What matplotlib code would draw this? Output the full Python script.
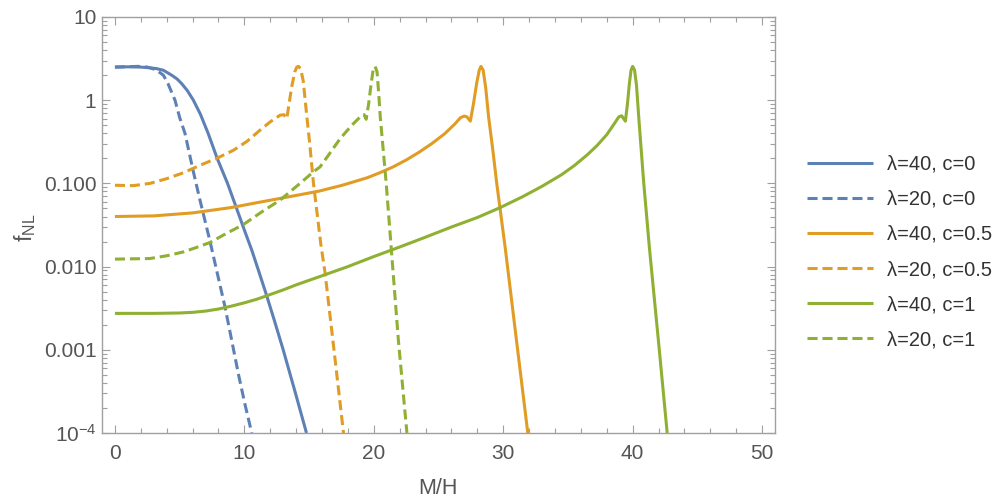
import matplotlib
matplotlib.use("Agg")
import matplotlib.pyplot as plt
from matplotlib.ticker import FixedLocator, NullFormatter

plt.rcParams["font.family"] = ["Liberation Sans", "DejaVu Sans"]
plt.rcParams["mathtext.fontset"] = "custom"
plt.rcParams["mathtext.rm"] = "Liberation Sans"
plt.rcParams["mathtext.it"] = "Liberation Sans"

# values (M/H, f_NL)
x_l40_c0 = [0, 1, 2, 2.7, 3.2, 3.74, 4.38, 4.8, 5.16, 5.6, 6.06, 6.6, 7.2, 7.9, 8.7,
            9.4, 10.0, 10.57, 11.1, 11.7, 12.3, 13.0, 13.9, 14.8]
y_l40_c0 = [2.5, 2.52, 2.5, 2.45, 2.4, 2.29, 2.0, 1.8, 1.58, 1.3, 1.0, 0.68, 0.40, 0.20, 0.10,
            0.05, 0.0275, 0.0158, 0.0089, 0.0046, 0.0023, 0.001, 0.00032, 1e-4]

x_l20_c0 = [0, 1, 1.8, 2.5, 2.9, 3.22, 3.74, 4.1, 4.64, 5.0, 5.41, 6.06, 6.57, 7.35, 8.0,
            8.5, 9.0, 9.54, 10.05, 10.57]
y_l20_c0 = [2.5, 2.53, 2.55, 2.5, 2.4, 2.29, 2.0, 1.58, 1.0, 0.62, 0.40, 0.138, 0.063, 0.020, 0.0072,
            0.0033, 0.00135, 0.00051, 0.00022, 1e-4]

x_l40_c05 = [0, 3, 6, 9, 11.73, 12.76, 14.5, 15.85, 16.6, 17.5, 18.5, 19.5, 20.5, 21.5, 22.5, 23.5,
             24.5, 25.5, 26.3, 26.7, 27.0, 27.2, 27.46, 27.7, 27.95, 28.15, 28.28, 28.45, 28.65, 28.87,
             29.2, 29.5, 30.16, 31.0, 31.9]
y_l40_c05 = [0.040, 0.0407, 0.0442, 0.0513, 0.0617, 0.066, 0.0741, 0.0813, 0.0871, 0.0944, 0.105, 0.117,
             0.135, 0.158, 0.191, 0.237, 0.302, 0.398, 0.525, 0.617, 0.645, 0.63, 0.56, 0.9, 1.6, 2.3,
             2.55, 2.3, 1.4, 0.63, 0.25, 0.10, 0.0166, 0.0014, 1e-4]

x_l20_c05 = [0, 1.42, 2.7, 4.0, 5.28, 6.57, 7.86, 9.15, 10.2, 11.2, 12.0, 12.76, 13.05, 13.28, 13.45,
             13.66, 13.9, 14.05, 14.18, 14.35, 14.55, 14.8, 15.05, 15.34, 15.9, 16.24, 16.84, 17.66]
y_l20_c05 = [0.095, 0.094, 0.1, 0.114, 0.134, 0.165, 0.2, 0.25, 0.32, 0.435, 0.55, 0.66, 0.67, 0.60, 0.9,
             1.45, 2.2, 2.5, 2.55, 2.4, 1.7, 0.7, 0.3, 0.1, 0.019, 0.0083, 0.0013, 1e-4]

x_l40_c1 = [0, 3, 5, 6, 7, 8, 9, 10, 11, 12, 13, 14, 15, 16, 18, 20, 22, 24, 26, 28, 29.78,
            31.5, 33, 34.5, 35.5, 36.5, 37.25, 38.0, 38.5, 38.93, 39.15, 39.44, 39.6, 39.75, 39.88,
            40.0, 40.15, 40.3, 40.47, 40.86, 41.3, 42.0, 42.67]
y_l40_c1 = [0.00274, 0.00274, 0.00277, 0.00282, 0.00292, 0.00309, 0.00335, 0.00367, 0.00407, 0.00462,
            0.00525, 0.00603, 0.00684, 0.00776, 0.01, 0.0132, 0.0172, 0.0226, 0.0299, 0.0389, 0.0513,
            0.0692, 0.0923, 0.127, 0.164, 0.221, 0.285, 0.385, 0.50, 0.63, 0.65, 0.56, 0.9, 1.6, 2.3,
            2.55, 2.3, 1.5, 0.63, 0.1, 0.0166, 0.00125, 1e-4]

x_l20_c1 = [0, 2.7, 4, 5.28, 6.3, 7.35, 8.6, 9.92, 11.3, 12.76, 14.3, 15.34, 15.85, 16.6, 17.4,
            18.3, 19.08, 19.25, 19.41, 19.6, 19.8, 19.95, 20.1, 20.25, 20.38, 20.5, 20.96,
            21.32, 21.9, 22.56]
y_l20_c1 = [0.0123, 0.0125, 0.0135, 0.015, 0.017, 0.0195, 0.025, 0.032, 0.045, 0.063, 0.1, 0.138, 0.158,
            0.23, 0.345, 0.5, 0.66, 0.67, 0.59, 0.9, 1.6, 2.3, 2.55, 2.2, 1.2, 0.63, 0.1,
            0.019, 0.0013, 1e-4]

labels = ["λ=40, c=0", "λ=20, c=0", "λ=40, c=0.5", "λ=20, c=0.5", "λ=40, c=1", "λ=20, c=1"]

y_ticks = [1e-4, 1e-3, 1e-2, 1e-1, 1, 10]
y_tick_labels = ["$10^{-4}$", "0.001", "0.010", "0.100", "1", "10"]

blue = "#5E81B5"
orange = "#E19C24"
green = "#8FB032"
frame_col = "#a0a0a0"
text_col = "#555555"

fig = plt.figure(figsize=(10.06, 4.99), dpi=100)
ax = fig.add_axes([102 / 1006, 1 - 433 / 499, 673 / 1006, 416 / 499])

lw = 2.2
dash = (3.3, 1.6)
series = [
    (x_l40_c0, y_l40_c0, blue, False),
    (x_l20_c0, y_l20_c0, blue, True),
    (x_l40_c05, y_l40_c05, orange, False),
    (x_l20_c05, y_l20_c05, orange, True),
    (x_l40_c1, y_l40_c1, green, False),
    (x_l20_c1, y_l20_c1, green, True),
]
for (xs, ys, col, dashed), lab in zip(series, labels):
    line, = ax.plot(xs, ys, color=col, lw=lw, label=lab, solid_capstyle="butt")
    if dashed:
        line.set_dashes(dash)

ax.set_yscale("log")
ax.set_xlim(-1, 51)
ax.set_ylim(1e-4, 10)

ax.xaxis.set_major_locator(FixedLocator([0, 10, 20, 30, 40, 50]))
ax.xaxis.set_minor_locator(FixedLocator([v for v in range(0, 51, 2) if v % 10 != 0]))
ax.yaxis.set_major_locator(FixedLocator(y_ticks))
minors = []
for d in [1e-4, 1e-3, 1e-2, 1e-1, 1]:
    minors += [d * k for k in range(2, 10)]
ax.yaxis.set_minor_locator(FixedLocator(minors))
ax.yaxis.set_minor_formatter(NullFormatter())
ax.set_yticklabels(y_tick_labels)

ax.tick_params(which="both", direction="in", top=True, right=True, colors=frame_col,
               labelcolor=text_col, labelsize=15, width=0.8)
ax.tick_params(which="major", length=6)
ax.tick_params(which="minor", length=3.5)
ax.tick_params(axis="x", pad=8)
ax.tick_params(axis="y", pad=4)
for s in ax.spines.values():
    s.set_color(frame_col)
    s.set_linewidth(1.0)

fig.text(438 / 1006, 1 - 488 / 499, "M/H", ha="center", va="center", fontsize=15.5, color=text_col)
fig.text(25 / 1006, 1 - 228 / 499, r"$\mathrm{f}_{\mathrm{NL}}$", ha="center", va="center",
         rotation=90, fontsize=16.5, color=text_col)

fig.legend(loc="center left", bbox_to_anchor=(797 / 1006, 1 - 252 / 499), frameon=False,
           fontsize=14.5, handlelength=3.25, handletextpad=0.7, labelspacing=0.8, borderpad=0,
           labelcolor="#333333")

fig.savefig("out.png", dpi=100)
